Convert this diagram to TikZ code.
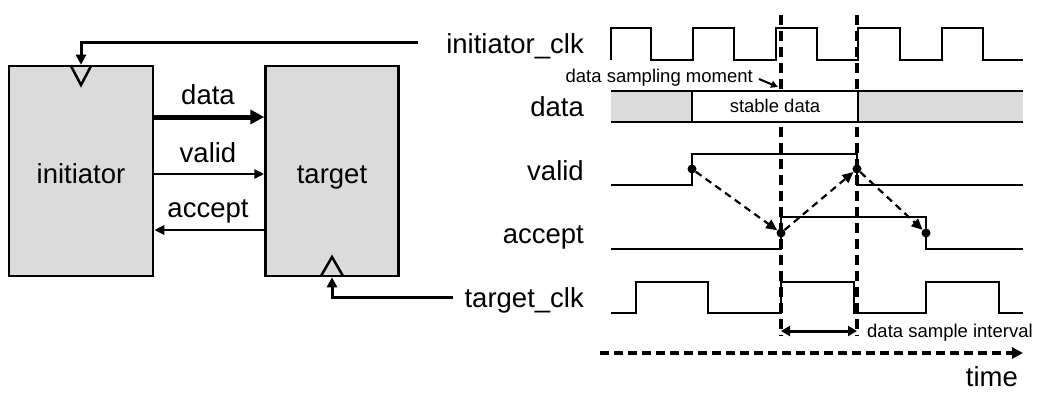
\documentclass[tikz,border=0pt]{standalone}
\usepackage{fontspec}
\setmainfont{Liberation Sans}
\usetikzlibrary{arrows.meta,calc}
\newcommand\BigLbl{\fontsize{27.5}{30}\selectfont}
\newcommand\SmallLbl{\fontsize{18.5}{21}\selectfont}
\definecolor{boxgray}{RGB}{219,219,219}
\tikzset{
  blk/.style={draw=black, line width=2.5pt, fill=boxgray, rectangle, inner sep=0pt},
  sig/.style={font=\BigLbl, inner sep=0pt, anchor=base east},
  lbl/.style={font=\BigLbl, inner sep=0pt, anchor=base},
  small/.style={font=\SmallLbl, inner sep=0pt, anchor=base},
  wave/.style={line width=2.4pt, line join=miter},
  thinarrow/.style={line width=2.6pt, -{Triangle[length=10pt,width=9pt]}},
  fatarrow/.style={line width=5pt, -{Triangle[length=14pt,width=14pt]}},
  clkarrow/.style={line width=3pt, -{Triangle[length=10pt,width=10pt]}},
  clkmark/.style={line width=2.5pt, draw=black},
  guide/.style={line width=3.5pt, dash pattern=on 10pt off 6pt},
  dasharrow/.style={line width=2.2pt, dash pattern=on 7pt off 5pt, -{Triangle[length=11pt,width=10pt]}},
  dot/.style={circle, fill=black, inner sep=0pt, minimum size=9pt},
}
\begin{document}
\begin{tikzpicture}[x=1pt,y=-1pt]
\useasboundingbox (0,0) rectangle (1042,396);

% ---- block diagram ----
\node[blk, minimum width=144pt, minimum height=210pt] (init) at (81,171) {};
\node[blk, minimum width=133pt, minimum height=210pt] (tgt) at (332,171) {};
\node[lbl] (tinit) at (81,183) {initiator};
\node[lbl] (ttgt) at (332,183) {target};
% clock markers
\draw[clkmark] (71,66) -- (81,85) -- (91,66);
\draw[clkmark] (321,276) -- (332,257) -- (343,276);

% levels
\coordinate (yd) at (0,117);
\coordinate (yv) at (0,174);
\coordinate (ya) at (0,230);
\draw[fatarrow] (init.east |- yd) -- (tgt.west |- yd);
\draw[thinarrow] (init.east |- yv) -- (tgt.west |- yv);
\draw[thinarrow] (tgt.west |- ya) -- (init.east |- ya);
\node[lbl] (ldata) at (208,105) {data};
\node[lbl] (lvalid) at (208,162) {valid};
\node[lbl] (laccept) at (208,217) {accept};

% ---- signal names ----
\node[sig] (iclk) at (584,54) {initiator\_clk};
\node[sig] (sdata) at (584,117) {data};
\node[sig] (svalid) at (584,180) {valid};
\node[sig] (saccept) at (584,243) {accept};
\node[sig] (tclk) at (584,307) {target\_clk};

\coordinate (iclkw) at (418,43);
\coordinate (tclkw) at (453,297);
\draw[clkarrow] (iclkw) -| (init.north);
\draw[clkarrow] (tclkw) -| (tgt.south);

% guides
\draw[guide] (781,15) -- (781,336);
\draw[guide] (857,15) -- (857,336);

% ---- waveforms ----
% initiator_clk
\draw[wave] (611,60)--(611,28)--(651,28)--(651,60)--(693,60)--(693,28)--(734,28)--(734,60)
  --(776,60)--(776,28)--(817,28)--(817,60)--(858,60)--(858,28)--(900,28)--(900,60)
  --(942,60)--(942,28)--(983,28)--(983,60)--(1023,60);
% data
\fill[boxgray] (611,91) rectangle (692,122);
\fill[white] (692,91) rectangle (858,122);
\fill[boxgray] (858,91) rectangle (1023,122);
\draw[wave] (611,91) -- (1023,91);
\draw[wave] (611,122) -- (1023,122);
\draw[wave] (692,91) -- (692,122);
\draw[wave] (858,91) -- (858,122);
\node[small] (stable) at (775,113) {stable data};
% valid
\draw[wave] (611,185)--(692,185)--(692,154)--(857,154)--(857,185)--(1023,185);
% accept
\draw[wave] (611,249)--(781,249)--(781,217)--(926,217)--(926,249)--(1023,249);
% target_clk
\draw[wave] (611,313)--(636,313)--(636,282)--(708,282)--(708,313)--(781,313)--(781,282)
  --(854,282)--(854,313)--(926,313)--(926,282)--(999,282)--(999,313)--(1023,313);

% sampling moment
\node[small, anchor=base east] (smom) at (753,83) {data sampling moment};
\coordinate (smst) at (759,79);
\coordinate (smpt) at (778,87);
\draw[line width=2pt, -{Triangle[length=7pt,width=7pt]}] (smst) -- (smpt);

% handshake dots and dependencies
\node[dot] (v1) at (692,169) {};
\node[dot] (v2) at (857,169) {};
\node[dot] (a1) at (781,233) {};
\node[dot] (a2) at (926,233) {};
\draw[dasharrow] (v1) -- (a1);
\draw[dasharrow] (a1) -- (v2);
\draw[dasharrow] (v2) -- (a2);

% sample interval
\coordinate (si1) at (781,331);
\coordinate (si2) at (857,331);
\draw[line width=3pt, {Triangle[length=9pt,width=10pt]}-{Triangle[length=9pt,width=10pt]}] (si1) -- (si2);
\node[small, anchor=base west] (sint) at (867,337) {data sample interval};

% time axis
\coordinate (t0) at (600,353);
\coordinate (t1) at (1023,353);
\draw[line width=3.2pt, dash pattern=on 9pt off 5pt, -{Triangle[length=11pt,width=11pt]}] (t0) -- (t1);
\node[lbl, anchor=base east] (time) at (1018,386) {time};
\end{tikzpicture}
\end{document}
